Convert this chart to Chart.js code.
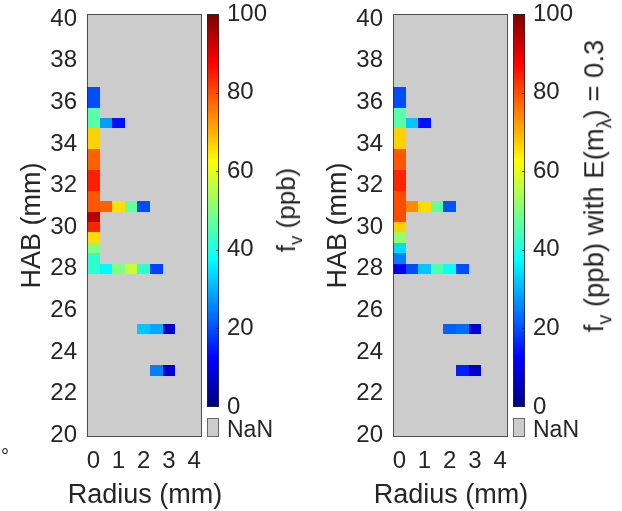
<!DOCTYPE html>
<html><head><meta charset="utf-8">
<script src="https://cdn.jsdelivr.net/npm/chart.js@4.4.1/dist/chart.umd.min.js"></script>
<style>
html,body{margin:0;padding:0;background:#fff}
body{width:622px;height:511px;overflow:hidden;position:relative;font-family:"Liberation Sans",Arial,Helvetica,sans-serif;color:#262626}
canvas{position:absolute;top:0}
.t{position:absolute;white-space:nowrap;line-height:1}
.rot{transform:translate(-50%,-50%) rotate(-90deg)}
.ctr{transform:translate(-50%,-50%)}
sub{font-size:0.72em;vertical-align:-0.38em;line-height:0}
</style></head><body>
<canvas id="h1" width="205" height="511" style="left:0px"></canvas>
<canvas id="c1" width="90" height="511" style="left:207px"></canvas>
<canvas id="h2" width="205" height="511" style="left:306px"></canvas>
<canvas id="c2" width="90" height="511" style="left:513px"></canvas>
<div class="t ctr" style="left:145px;top:494px;font-size:27px">Radius (mm)</div>
<div class="t ctr" style="left:451px;top:494px;font-size:27px">Radius (mm)</div>
<div class="t" style="left:227px;top:418px;font-size:23px">NaN</div>
<div class="t" style="left:533px;top:418px;font-size:23px">NaN</div>
<div class="t rot" style="left:286px;top:210px;font-size:26px">f<sub>v</sub> (ppb)</div>
<div class="t rot" style="left:594px;top:186px;font-size:27.5px">f<sub>v</sub> (ppb) with E(m<sub>λ</sub>) = 0.3</div>
<div class="t" style="left:1px;top:446px;font-size:20px">°</div>
<script>
// ---- data ----
const radiusTicks = [0, 1, 2, 3, 4];
const habTicks = [20, 22, 24, 26, 28, 30, 32, 34, 36, 38, 40];
const colorbarTicks = [0, 20, 40, 60, 80, 100];
const RADIUS_BIN = 0.5;   // mm
const HAB_BIN = 0.5;      // mm
// centre-line column (radius 0)
const axialHab = [36.5, 36, 35.5, 35, 34.5, 34, 33.5, 33, 32.5, 32, 31.5, 31, 30.5, 30, 29.5, 29, 28.5, 28];
const axialFvLeft  = [20, 20, 46, 46, 67, 67, 78, 78, 84.5, 84.5, 79, 79, 94.5, 84, 66, 50, 42, 42];
const axialFvRight = [20, 20, 46, 46, 67, 67, 79, 79, 84, 84, 80, 80, 80, 67, 52, 34, 25, 11];
// off-axis cells
const sideHab    = [35, 35, 31, 31, 31, 31, 28, 28, 28, 28, 28, 25.1, 25.1, 25.1, 23.1, 23.1];
const sideRadius = [0.5, 1, 0.5, 1, 1.5, 2, 0.5, 1, 1.5, 2, 2.5, 2, 2.5, 3, 2.5, 3];
const sideFvLeft  = [28, 14, 78, 65.5, 47, 20, 37, 50, 57, 42, 19, 32, 29, 8, 25, 8];
const sideFvRight = [32, 14, 74, 66, 47, 20.5, 20, 32, 45, 38, 20, 22, 23, 8.5, 15.5, 7.5];

// ---- styling ----
const NAN_COLOR = '#cccccc';
const TXT = '#262626';
const FONT = "'Liberation Sans', Arial, Helvetica, sans-serif";
const X_MIN = -0.25, X_MAX = 4.31, Y_MIN = 19.91, Y_MAX = 40.245;

function jet(v){
  const t = Math.max(0, Math.min(1, v / 100));
  const f = x => Math.round(255 * Math.max(0, Math.min(1, x)));
  return `rgb(${f(1.5 - Math.abs(4*t - 3))},${f(1.5 - Math.abs(4*t - 2))},${f(1.5 - Math.abs(4*t - 1))})`;
}

function buildCells(axialVals, sideVals){
  const cells = axialHab.map((h, i) => ({x: 0, y: h, v: axialVals[i]}));
  sideHab.forEach((h, i) => cells.push({x: sideRadius[i], y: h, v: sideVals[i]}));
  return cells;
}

function noPad(s){ s.paddingTop = 0; s.paddingBottom = 0; s.paddingLeft = 0; s.paddingRight = 0; }

const heatPlugin = {
  id: 'heat',
  beforeDatasetsDraw(chart){
    const {ctx, chartArea: a, scales: {x, y}} = chart;
    ctx.save();
    ctx.fillStyle = NAN_COLOR;
    ctx.fillRect(a.left, a.top, a.width, a.height);
    chart.data.datasets.forEach(ds => ds.data.forEach(p => {
      const x0 = Math.max(Math.round(x.getPixelForValue(p.x - RADIUS_BIN/2)), Math.round(a.left));
      const x1 = Math.round(x.getPixelForValue(p.x + RADIUS_BIN/2));
      const y0 = Math.round(y.getPixelForValue(p.y + HAB_BIN/2));
      const y1 = Math.round(y.getPixelForValue(p.y - HAB_BIN/2));
      ctx.fillStyle = jet(p.v);
      ctx.fillRect(x0, y0, x1 - x0, y1 - y0);
    }));
    ctx.restore();
  },
  afterDraw(chart){
    const {ctx, chartArea: a} = chart;
    ctx.save();
    ctx.strokeStyle = 'rgba(38,38,38,0.75)';
    ctx.lineWidth = 1;
    ctx.strokeRect(Math.round(a.left) + 0.5, Math.round(a.top) + 0.5, Math.round(a.width) - 1, Math.round(a.height) - 1);
    ctx.restore();
  }
};

function heatChart(id, axialVals, sideVals){
  return new Chart(document.getElementById(id), {
    type: 'scatter',
    data: {datasets: [{data: buildCells(axialVals, sideVals), pointRadius: 0, pointHoverRadius: 0}]},
    options: {
      responsive: false, animation: false, events: [],
      plugins: {legend: {display: false}, tooltip: {enabled: false}},
      layout: {padding: {top: 14, right: 3, left: 0, bottom: 0}},
      scales: {
        x: {
          type: 'linear', min: X_MIN, max: X_MAX,
          afterBuildTicks: s => { s.ticks = radiusTicks.map(v => ({value: v})); },
          afterFit: s => { s.height = 74; noPad(s); },
          grid: {display: false, drawTicks: false, tickLength: 0}, border: {display: false},
          ticks: {padding: 10, color: TXT, font: {family: FONT, size: 24}, maxRotation: 0}
        },
        y: {
          type: 'linear', min: Y_MIN, max: Y_MAX,
          afterBuildTicks: s => { s.ticks = habTicks.map(v => ({value: v})); },
          afterFit: s => { s.width = 87; noPad(s); },
          grid: {display: false, drawTicks: false, tickLength: 0}, border: {display: false},
          ticks: {padding: 10, color: TXT, font: {family: FONT, size: 24}},
          title: {display: true, text: 'HAB (mm)', color: TXT, font: {family: FONT, size: 27}, padding: {top: 16, bottom: 0}}
        }
      }
    },
    plugins: [heatPlugin]
  });
}

const cbPlugin = {
  id: 'cb',
  beforeDatasetsDraw(chart){
    const {ctx, chartArea: a, scales: {y}} = chart;
    const yTop = y.getPixelForValue(100), yBot = y.getPixelForValue(0);
    ctx.save();
    const g = ctx.createLinearGradient(0, yBot, 0, yTop);
    for (let i = 0; i <= 64; i++) g.addColorStop(i / 64, jet(i * 100 / 64));
    ctx.fillStyle = g;
    ctx.fillRect(a.left, yTop, a.width, yBot - yTop);
    ctx.strokeStyle = 'rgba(38,38,38,0.85)';
    ctx.lineWidth = 1;
    ctx.strokeRect(Math.round(a.left) + 0.5, Math.round(yTop) + 0.5, Math.round(a.width) - 1, Math.round(yBot - yTop) - 1);
    colorbarTicks.slice(1, -1).forEach(v => {
      const py = Math.round(y.getPixelForValue(v)) + 0.5;
      ctx.beginPath(); ctx.moveTo(a.right - 3, py); ctx.lineTo(a.right, py); ctx.stroke();
    });
    // NaN swatch
    const ny = Math.round(yBot) + 11;
    ctx.fillStyle = NAN_COLOR;
    ctx.fillRect(a.left, ny, a.width, 19);
    ctx.strokeStyle = 'rgba(80,80,80,0.8)';
    ctx.strokeRect(Math.round(a.left) + 0.5, ny + 0.5, Math.round(a.width) - 1, 18);
    ctx.restore();
  }
};

function colorbar(id){
  return new Chart(document.getElementById(id), {
    type: 'scatter',
    data: {datasets: [{data: [], pointRadius: 0}]},
    options: {
      responsive: false, animation: false, events: [],
      plugins: {legend: {display: false}, tooltip: {enabled: false}},
      layout: {padding: {top: 14, bottom: 104, left: 0, right: 0}},
      scales: {
        x: {type: 'linear', display: false, min: 0, max: 1},
        y: {
          type: 'linear', position: 'right', min: 0, max: 100,
          afterBuildTicks: s => { s.ticks = colorbarTicks.map(v => ({value: v})); },
          afterFit: s => { s.width = 78; noPad(s); },
          grid: {display: false, drawTicks: false, tickLength: 0}, border: {display: false},
          ticks: {padding: 8, color: TXT, font: {family: FONT, size: 24}}
        }
      }
    },
    plugins: [cbPlugin]
  });
}

heatChart('h1', axialFvLeft, sideFvLeft);
heatChart('h2', axialFvRight, sideFvRight);
colorbar('c1');
colorbar('c2');
</script>
</body></html>
